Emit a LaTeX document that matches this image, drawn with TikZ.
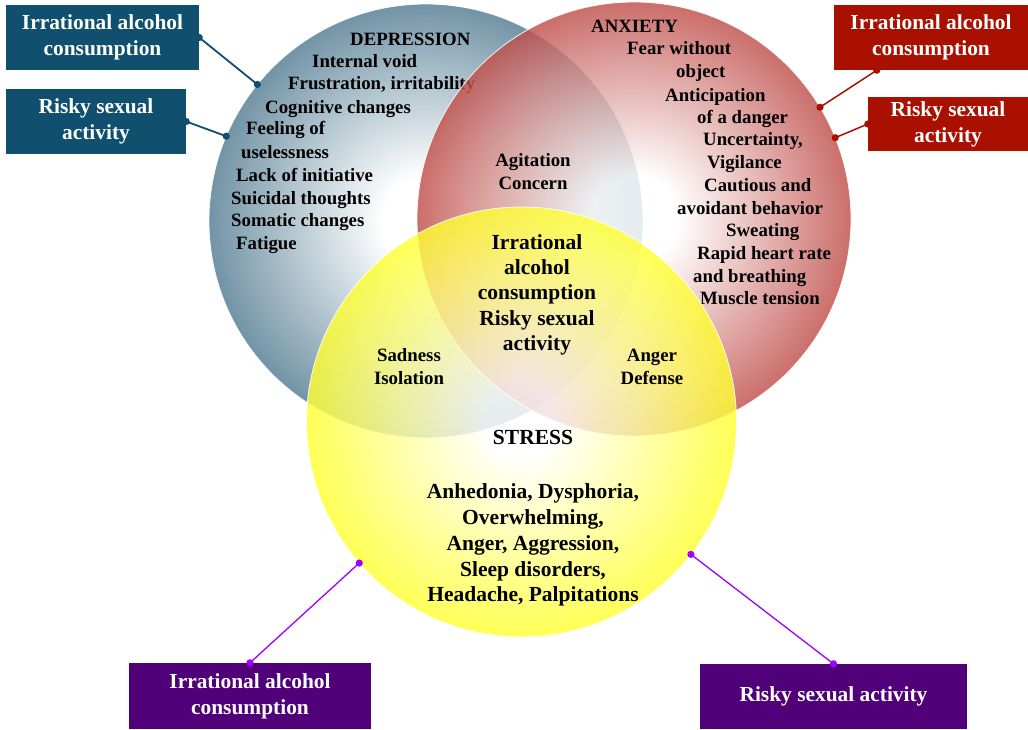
\documentclass[tikz,border=0pt]{standalone}
\usepackage{fontspec}
\setmainfont{Liberation Serif}
\definecolor{depedge}{HTML}{205572}
\definecolor{anxedge}{HTML}{AD1A14}
\definecolor{stredge}{HTML}{FFFF00}
\definecolor{tealbox}{HTML}{10506E}
\definecolor{redbox}{HTML}{AA1000}
\definecolor{purbox}{HTML}{500078}
\definecolor{purline}{HTML}{A000FF}
\pgfdeclareradialshading{depshade}{\pgfpoint{0bp}{0bp}}{color(0bp)=(white); color(5bp)=(white); color(31bp)=(depedge); color(50bp)=(depedge)}
\pgfdeclareradialshading{anxshade}{\pgfpoint{0bp}{0bp}}{color(0bp)=(white); color(5bp)=(white); color(31bp)=(anxedge); color(50bp)=(anxedge)}
\pgfdeclareradialshading{strshade}{\pgfpoint{0bp}{0bp}}{color(0bp)=(white); color(4bp)=(white); color(30bp)=(stredge); color(50bp)=(stredge)}
\tikzset{
  lst/.style={font=\bfseries\fontsize{18.8}{23}\selectfont, inner sep=0pt, anchor=base west},
  cln/.style={font=\bfseries\fontsize{18.8}{23}\selectfont, inner sep=0pt, anchor=base},
  bign/.style={font=\bfseries\fontsize{21.5}{25.7}\selectfont, inner sep=0pt, anchor=base},
  venn/.style={circle, inner sep=0pt, outer sep=0pt, minimum size=434pt, fill opacity=0.82, draw=white, line width=0.8pt, draw opacity=0.9},
  boxn/.style={rectangle, inner sep=0pt, align=center, text=white, font=\bfseries\fontsize{21.4}{26}\selectfont},
  dotn/.style={circle, fill, inner sep=0pt, minimum size=7pt}
}
\begin{document}
\begin{tikzpicture}[x=1pt,y=-1pt]
\useasboundingbox (0,0) rectangle (1028,729);
% Depression circle and text
\node[venn, shading=depshade] (dep) at (426,221) {};
\node[lst] (d0) at (350,45) {DEPRESSION};
\node[lst] (d1) at (312,67) {Internal void};
\node[lst] (d2) at (288,89) {Frustration, irritability};
\node[lst] (d3) at (265,113) {Cognitive changes};
\node[lst] (d4) at (246,134) {Feeling of};
\node[lst] (d5) at (241,158) {uselessness};
\node[lst] (d6) at (236,181) {Lack of initiative};
\node[lst] (d7) at (231,204) {Suicidal thoughts};
\node[lst] (d8) at (231,226) {Somatic changes};
\node[lst] (d9) at (236,249) {Fatigue};
% Anxiety circle and text
\node[venn, shading=anxshade] (anx) at (634,219) {};
\node[lst] (a0) at (591,32) {ANXIETY};
\node[lst] (a1) at (627,54) {Fear without};
\node[lst] (a2) at (676,77) {object};
\node[lst] (a3) at (665,101) {Anticipation};
\node[lst] (a4) at (697,123) {of a danger};
\node[lst] (a5) at (703,145) {Uncertainty,};
\node[lst] (a6) at (707,168) {Vigilance};
\node[lst] (a7) at (704,191) {Cautious and};
\node[lst] (a8) at (677,214) {avoidant behavior};
\node[lst] (a9) at (726,236) {Sweating};
\node[lst] (a10) at (697,259) {Rapid heart rate};
\node[lst] (a11) at (693,282) {and breathing};
\node[lst] (a12) at (700,304) {Muscle tension};
\node[cln] (g1) at (533,166) {Agitation};
\node[cln] (g2) at (533,189) {Concern};
% Stress circle and text
\node[venn, shading=strshade, minimum size=430pt] (str) at (521.5,422) {};
\node[bign] (c1) at (537,249) {Irrational};
\node[bign] (c2) at (537,274) {alcohol};
\node[bign] (c3) at (537,299) {consumption};
\node[bign] (c4) at (537,325) {Risky sexual};
\node[bign] (c5) at (537,350) {activity};
\node[cln] (s1) at (409,361) {Sadness};
\node[cln] (s2) at (409,384) {Isolation};
\node[cln] (n1) at (652,361) {Anger};
\node[cln] (n2) at (652,384) {Defense};
\node[bign] (st0) at (533,444) {STRESS};
\node[bign] (st1) at (533,498) {Anhedonia, Dysphoria,};
\node[bign] (st2) at (533,524) {Overwhelming,};
\node[bign] (st3) at (533,550) {Anger, Aggression,};
\node[bign] (st4) at (533,576) {Sleep disorders,};
\node[bign] (st5) at (533,601) {Headache, Palpitations};
% Boxes
\node[boxn, fill=tealbox, minimum width=193pt, minimum height=65pt] (b1) at (102.5,37.5) {Irrational alcohol\\consumption};
\node[boxn, fill=tealbox, minimum width=180pt, minimum height=65pt] (b2) at (96,121.5) {Risky sexual\\activity};
\node[boxn, fill=redbox, minimum width=194pt, minimum height=65pt] (b3) at (931,37.5) {Irrational alcohol\\consumption};
\node[boxn, fill=redbox, minimum width=160pt, minimum height=54pt] (b4) at (948,124) {Risky sexual\\activity};
\node[boxn, fill=purbox, minimum width=242pt, minimum height=66pt] (b5) at (250,696) {Irrational alcohol\\consumption};
\node[boxn, fill=purbox, minimum width=267pt, minimum height=65pt] (b6) at (833.5,696.5) {Risky sexual activity};
% Connectors
\draw[tealbox, line width=1.8pt] (b1.east) -- (dep.141.1);
\fill[tealbox] (b1.east) circle (3.6) (dep.141.1) circle (3.6);
\draw[tealbox, line width=1.8pt] (b2.east) -- (dep.157.3);
\fill[tealbox] (b2.east) circle (3.6) (dep.157.3) circle (3.6);
\coordinate (b3p) at ([xshift=43pt]b3.south west);
\draw[redbox, line width=1.5pt] (b3p) -- (anx.31.3);
\fill[redbox] (b3p) circle (3.6) (anx.31.3) circle (3.6);
\draw[redbox, line width=1.5pt] (b4.west) -- (anx.22.4);
\fill[redbox] (b4.west) circle (3.6) (anx.22.4) circle (3.6);
\draw[purline, line width=1.3pt] (b5.north) -- (str.221.9);
\fill[purline] (b5.north) circle (3.6) (str.221.9) circle (3.6);
\draw[purline, line width=1.3pt] (b6.north) -- (str.322.3);
\fill[purline] (b6.north) circle (3.6) (str.322.3) circle (3.6);
\end{tikzpicture}
\end{document}
